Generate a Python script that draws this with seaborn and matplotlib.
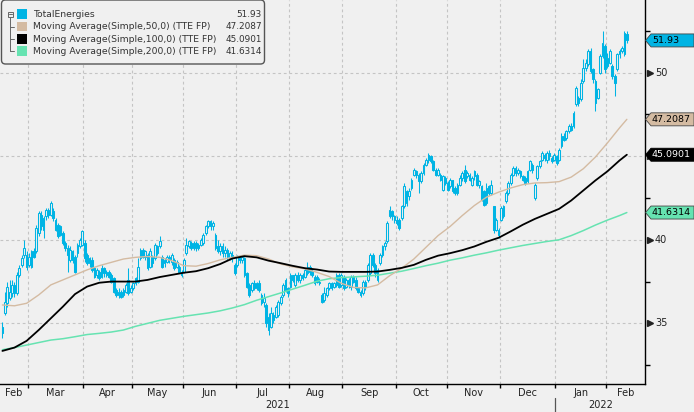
import numpy as np
import pandas as pd
import matplotlib
matplotlib.use("Agg")
import matplotlib.pyplot as plt
import seaborn as sns
from matplotlib.patches import Polygon, FancyBboxPatch, Rectangle
from matplotlib.lines import Line2D
from matplotlib.transforms import IdentityTransform, blended_transform_factory, offset_copy

sns.set_theme(style="white")
plt.rcParams["font.family"] = ["DejaVu Sans"]

# daily candles, TotalEnergies (TTE FP), 12 Feb 2021 .. 11 Feb 2022
opens = [34.8, 35.6, 36.2, 36.5, 36.8, 37.3, 36.8, 37.9, 38.5, 39.1, 39.1, 38.5, 38.4, 39.3, 39.3, 40.4, 41.5, 40.6, 41.4, 41.8,
         41.5, 41.7, 41.2, 40.9, 40.3, 40.4, 39.8, 39.5, 38.8, 39.3, 39.0, 39.2, 39.6, 39.7, 39.8, 39.1, 38.6, 38.8, 38.3, 37.9,
         38.1, 37.8, 38.3, 37.9, 38.1, 37.9, 37.7, 37.0, 36.7, 36.9, 36.7, 36.9, 37.6, 36.9, 37.1, 37.4, 37.5, 38.9, 39.4, 39.0,
         39.1, 38.4, 39.0, 38.9, 39.6, 39.6, 39.0, 38.6, 38.7, 39.0, 38.7, 38.8, 38.4, 38.4, 38.1, 38.1, 39.2, 39.6, 39.8, 39.5,
         39.8, 39.5, 39.7, 39.8, 40.4, 40.8, 41.1, 40.8, 40.3, 39.6, 39.3, 39.6, 39.2, 39.4, 38.9, 39.1, 38.5, 38.5, 39.0, 38.8,
         38.9, 38.0, 37.3, 37.0, 37.4, 37.1, 37.4, 36.7, 36.3, 36.1, 35.4, 34.8, 35.5, 35.4, 35.5, 36.2, 36.7, 37.6, 37.1, 37.2,
         37.9, 37.3, 37.9, 37.6, 37.9, 37.8, 38.0, 38.4, 38.1, 37.4, 37.8, 37.5, 36.7, 36.4, 36.7, 37.1, 37.4, 37.2, 37.3, 37.9,
         37.3, 37.8, 37.2, 37.6, 37.2, 37.8, 37.6, 37.1, 36.9, 36.8, 37.5, 37.6, 38.0, 39.1, 38.5, 37.6, 38.6, 39.1, 39.6, 39.9,
         41.4, 41.7, 41.4, 41.2, 41.2, 41.3, 42.0, 42.9, 42.6, 43.1, 43.9, 44.1, 43.9, 43.5, 44.0, 44.5, 44.8, 45.0, 44.7, 44.2,
         43.9, 43.9, 43.0, 43.7, 43.4, 43.2, 43.6, 43.1, 42.8, 43.3, 43.7, 44.2, 43.8, 43.9, 43.3, 43.8, 43.9, 43.3, 43.2, 42.9,
         42.2, 43.2, 42.8, 42.0, 40.6, 40.6, 41.2, 41.4, 42.3, 42.8, 43.4, 43.9, 44.3, 44.0, 44.1, 43.8, 43.7, 43.5, 44.2, 44.5,
         42.5, 43.7, 44.4, 44.8, 45.1, 44.8, 45.2, 44.9, 44.8, 45.0, 44.8, 45.6, 46.2, 46.1, 46.5, 46.8, 46.8, 48.1, 48.5, 48.4,
         49.5, 50.3, 50.5, 51.3, 50.2, 49.5, 48.5, 50.0, 51.0, 51.6, 50.4, 50.6, 50.4, 49.8, 50.2, 51.1, 51.3, 51.1, 52.3]
highs = [35.1, 36.9, 37.5, 37.6, 37.6, 37.5, 38.1, 38.5, 39.1, 40.0, 39.3, 39.2, 39.4, 39.5, 40.9, 41.7, 41.7, 41.4, 41.9, 41.9,
         42.3, 41.9, 41.3, 41.0, 40.9, 40.5, 39.9, 39.7, 39.6, 39.4, 39.1, 39.8, 40.1, 40.6, 40.0, 39.2, 39.0, 39.0, 38.4, 38.3,
         38.2, 38.5, 38.4, 38.2, 38.2, 38.0, 37.8, 37.1, 37.1, 37.0, 37.1, 37.4, 38.3, 37.3, 37.5, 37.8, 38.9, 39.5, 39.5, 39.4,
         39.2, 39.5, 39.1, 39.8, 39.7, 40.2, 39.1, 38.9, 39.1, 39.1, 39.2, 38.9, 38.8, 38.5, 38.2, 38.9, 40.1, 40.0, 39.9, 39.9,
         39.9, 39.8, 40.1, 40.4, 40.9, 41.2, 41.2, 41.1, 40.4, 40.0, 39.8, 39.8, 39.6, 39.5, 39.3, 39.3, 38.6, 39.1, 39.1, 39.1,
         39.0, 38.1, 37.4, 37.5, 37.6, 37.5, 37.6, 36.8, 36.8, 36.2, 35.6, 36.0, 35.7, 36.1, 36.4, 36.7, 37.4, 37.7, 37.2, 38.0,
         37.9, 38.0, 38.1, 38.0, 38.0, 38.3, 38.7, 38.5, 38.3, 37.9, 37.9, 37.7, 36.8, 37.2, 37.2, 37.5, 37.5, 37.5, 38.0, 38.0,
         38.0, 37.9, 37.7, 37.7, 37.9, 37.9, 37.8, 37.2, 37.0, 37.6, 37.6, 38.6, 39.2, 39.2, 38.6, 38.3, 39.2, 39.7, 39.9, 41.1,
         42.0, 41.8, 41.5, 41.4, 41.3, 42.1, 43.4, 43.0, 43.1, 43.7, 44.3, 44.2, 44.0, 44.1, 44.6, 44.9, 45.2, 45.1, 44.8, 44.3,
         44.3, 44.0, 43.9, 43.8, 43.5, 43.7, 43.6, 43.2, 43.4, 43.9, 44.1, 44.5, 44.1, 44.0, 43.8, 44.2, 44.0, 43.6, 43.3, 43.0,
         43.4, 43.3, 43.6, 42.0, 41.3, 40.7, 42.0, 42.1, 42.9, 43.5, 44.0, 44.4, 44.4, 44.3, 44.2, 43.9, 43.8, 44.2, 44.8, 44.6,
         43.4, 44.5, 44.8, 45.3, 45.2, 45.3, 45.4, 45.0, 45.2, 45.1, 45.5, 46.4, 46.4, 46.6, 46.9, 47.0, 47.7, 49.2, 48.6, 49.6,
         50.8, 50.8, 51.4, 51.5, 50.3, 49.6, 49.1, 51.1, 52.5, 51.7, 51.2, 51.4, 50.5, 49.9, 51.2, 51.4, 51.6, 52.5, 52.5]
lows = [34.1, 35.5, 36.0, 36.4, 36.6, 36.6, 36.7, 37.8, 38.4, 38.9, 38.2, 38.4, 38.3, 38.9, 39.2, 40.2, 40.6, 40.1, 41.2, 41.3,
        41.4, 41.1, 40.5, 40.1, 40.2, 39.7, 39.3, 38.1, 38.7, 38.6, 38.0, 39.0, 39.5, 39.6, 38.7, 38.5, 38.4, 38.1, 37.7, 37.7,
        37.6, 37.7, 37.8, 37.8, 37.7, 37.4, 36.8, 36.6, 36.5, 36.5, 36.6, 36.8, 36.7, 36.8, 37.0, 37.3, 37.4, 38.8, 38.9, 38.8,
        38.2, 38.3, 38.4, 38.8, 39.1, 39.5, 38.3, 38.4, 38.6, 38.6, 38.5, 38.2, 38.3, 38.0, 37.8, 38.0, 39.1, 39.5, 39.4, 39.4,
        39.3, 39.4, 39.6, 39.7, 40.3, 40.7, 40.6, 40.6, 39.4, 39.2, 39.1, 39.0, 39.0, 38.8, 38.8, 38.7, 37.9, 38.4, 38.6, 38.6,
        37.8, 37.1, 36.6, 36.9, 37.0, 37.0, 36.9, 36.1, 36.0, 34.8, 34.3, 34.7, 35.0, 35.3, 35.4, 36.1, 36.6, 36.9, 36.6, 37.1,
        37.5, 37.2, 37.5, 37.4, 37.6, 37.7, 37.9, 37.9, 37.8, 37.3, 37.4, 37.3, 36.2, 36.3, 36.6, 37.0, 37.0, 37.1, 37.2, 37.1,
        37.2, 37.0, 37.1, 37.1, 37.0, 37.4, 37.0, 36.8, 36.6, 36.7, 37.0, 37.5, 37.9, 38.4, 37.8, 37.5, 38.5, 39.0, 39.4, 39.8,
        41.3, 41.2, 41.0, 40.9, 40.6, 41.2, 41.9, 42.0, 42.4, 43.0, 43.8, 43.7, 42.8, 43.4, 43.9, 44.4, 44.6, 44.6, 44.1, 43.8,
        43.8, 43.5, 42.9, 43.3, 42.9, 43.1, 42.8, 42.7, 42.7, 43.2, 43.5, 43.4, 43.7, 43.5, 43.2, 43.6, 43.2, 43.1, 42.3, 42.0,
        42.1, 42.7, 42.7, 40.4, 40.5, 40.1, 41.1, 41.3, 42.2, 42.7, 43.3, 43.8, 43.8, 43.9, 43.7, 43.5, 43.3, 43.4, 44.1, 44.0,
        42.4, 43.6, 44.3, 44.7, 44.7, 44.6, 44.8, 44.6, 44.7, 44.5, 44.7, 45.5, 45.9, 46.0, 46.4, 46.5, 46.7, 48.0, 48.0, 48.3,
        49.4, 50.1, 50.4, 50.0, 49.4, 47.7, 48.4, 49.9, 50.9, 50.0, 50.3, 50.5, 49.6, 48.6, 50.1, 50.9, 51.2, 51.0, 51.8]
closes = [34.4, 36.3, 37.2, 36.9, 37.3, 36.8, 37.9, 38.3, 38.9, 39.5, 38.4, 39.0, 39.3, 39.0, 40.7, 41.6, 40.8, 41.3, 41.8, 41.5,
          42.2, 41.3, 40.6, 40.2, 40.8, 39.8, 39.5, 39.1, 39.4, 38.8, 38.1, 39.7, 40.0, 40.5, 38.9, 38.6, 38.9, 38.2, 37.8, 38.2,
          37.7, 38.3, 38.0, 38.1, 37.8, 37.5, 36.9, 36.7, 36.9, 36.6, 37.0, 37.3, 36.8, 37.1, 37.4, 37.7, 38.4, 39.4, 39.0, 39.3,
          38.3, 39.3, 38.6, 39.7, 39.2, 39.9, 38.4, 38.8, 39.0, 38.8, 39.1, 38.3, 38.7, 38.1, 37.9, 38.8, 39.7, 39.9, 39.5, 39.8,
          39.5, 39.7, 40.0, 40.3, 40.8, 41.1, 40.8, 41.0, 39.5, 39.3, 39.6, 39.2, 39.4, 39.0, 39.2, 38.9, 38.0, 39.0, 38.8, 39.0,
          37.9, 37.2, 36.7, 37.4, 37.1, 37.4, 37.0, 36.2, 36.5, 35.0, 34.6, 35.6, 35.2, 36.0, 36.3, 36.6, 37.3, 37.0, 36.8, 37.9,
          37.6, 37.9, 37.6, 37.9, 37.7, 38.2, 38.4, 38.1, 37.9, 37.8, 37.5, 37.4, 36.3, 36.8, 37.1, 37.4, 37.1, 37.4, 37.9, 37.2,
          37.9, 37.1, 37.6, 37.3, 37.8, 37.5, 37.1, 36.9, 36.7, 37.5, 37.2, 38.5, 39.1, 38.5, 38.0, 38.2, 39.1, 39.6, 39.8, 41.0,
          41.8, 41.4, 41.2, 41.0, 40.7, 42.0, 43.2, 42.2, 42.9, 43.6, 44.2, 43.9, 43.5, 44.0, 44.5, 44.8, 45.1, 44.7, 44.2, 43.9,
          44.2, 43.6, 43.8, 43.4, 43.0, 43.6, 42.9, 42.8, 43.3, 43.7, 44.0, 43.5, 44.0, 43.6, 43.7, 44.1, 43.3, 43.5, 42.4, 42.1,
          43.1, 42.8, 43.3, 40.6, 41.2, 40.3, 41.9, 42.0, 42.8, 43.4, 43.9, 44.3, 44.0, 44.2, 43.8, 43.6, 43.4, 44.1, 44.7, 44.2,
          43.3, 44.4, 44.7, 45.2, 44.9, 45.2, 45.0, 44.7, 45.1, 44.6, 45.4, 46.2, 46.0, 46.5, 46.8, 46.6, 47.6, 49.1, 48.2, 49.4,
          50.3, 50.6, 51.3, 50.1, 49.6, 48.2, 49.0, 51.0, 51.8, 50.2, 50.9, 51.3, 49.8, 49.4, 51.1, 51.3, 51.5, 52.4, 51.93]

# moving averages read every 5 trading days
ma_days = list(range(0, 256, 5)) + [258]
ma50 = [36.1, 36.05, 36.2, 36.7, 37.3, 37.6, 37.9, 38.2, 38.45, 38.65, 38.85, 38.95, 39.0, 38.95, 38.75, 38.45, 38.42, 38.58,
        38.8, 38.95, 39.08, 39.05, 38.85, 38.55, 38.38, 38.26, 38.05, 37.8, 37.4, 37.15, 37.12, 37.3, 37.85, 38.3, 38.85, 39.55,
        40.25, 40.8, 41.45, 42.05, 42.55, 42.85, 43.1, 43.3, 43.4, 43.42, 43.48, 43.75, 44.25, 44.95, 45.8, 46.7, 47.2087]
ma100 = [33.35, 33.55, 33.95, 34.6, 35.3, 36.0, 36.75, 37.2, 37.43, 37.5, 37.5, 37.5, 37.6, 37.77, 37.9, 38.03, 38.12, 38.3,
         38.55, 38.88, 39.02, 38.95, 38.75, 38.6, 38.44, 38.3, 38.22, 38.1, 38.08, 38.08, 38.08, 38.1, 38.2, 38.32, 38.5, 38.8,
         39.05, 39.2, 39.38, 39.6, 39.88, 40.12, 40.5, 40.9, 41.25, 41.55, 41.85, 42.35, 42.95, 43.55, 44.1, 44.75, 45.0901]
ma200 = [33.42, 33.55, 33.7, 33.85, 34.0, 34.08, 34.2, 34.33, 34.4, 34.48, 34.6, 34.82, 35.0, 35.18, 35.3, 35.42, 35.52, 35.62,
         35.75, 35.92, 36.12, 36.38, 36.6, 36.82, 37.05, 37.28, 37.52, 37.67, 37.74, 37.78, 37.82, 37.88, 38.0, 38.12, 38.28, 38.45,
         38.6, 38.78, 38.92, 39.08, 39.22, 39.38, 39.52, 39.66, 39.78, 39.9, 40.0, 40.25, 40.55, 40.88, 41.18, 41.45, 41.6314]

legend_names = ["TotalEnergies", "Moving Average(Simple,50,0) (TTE FP)",
                "Moving Average(Simple,100,0) (TTE FP)", "Moving Average(Simple,200,0) (TTE FP)"]
last_values = ["51.93", "47.2087", "45.0901", "41.6314"]
month_names = ["Feb", "Mar", "Apr", "May", "Jun", "Jul", "Aug", "Sep", "Oct", "Nov", "Dec", "Jan", "Feb"]
price_labels = [35, 40, 50]  # 45 sits under the black tag

BG = "#f0f0f0"
CYAN = "#00b4e4"
TAN = "#d4bba2"
GREEN = "#66e3b1"
GRID = "#c4c4c4"
colors = [CYAN, TAN, "black", GREEN]
tag_text = ["black", "black", "white", "black"]

days = pd.bdate_range("2021-02-12", "2022-02-11")
days = days.drop(pd.to_datetime(["2021-04-02", "2021-04-05"]))
idx = np.arange(len(days))

W, H = 694, 412
fig = plt.figure(figsize=(W / 100, H / 100), dpi=100, facecolor=BG)
ax = fig.add_axes([0, 28 / H, 645 / W, 384 / H])
ax.set_facecolor(BG)
ax.set_xlim(-0.99, 265.5)
ax.set_ylim(31.37, 54.35)

# month boundaries
month_start = [i for i in range(1, len(days)) if days[i].month != days[i - 1].month]
bounds = [b - 0.5 for b in month_start]
for b in bounds:
    ax.axvline(b, color=GRID, lw=0.8, ls=(0, (2.5, 2.5)), zorder=0)
for v in [35, 40, 45, 50]:
    ax.axhline(v, color=GRID, lw=0.8, ls=(0, (2.5, 2.5)), zorder=0)

# candles: hollow when up, filled when down
o, hi, lo, c = map(np.array, (opens, highs, lows, closes))
up = c >= o
ax.vlines(idx, lo, hi, color=CYAN, lw=0.75, zorder=3)
body_lo = np.minimum(o, c)
body_h = np.maximum(np.abs(c - o), 0.04)
ax.bar(idx[up], body_h[up], bottom=body_lo[up], width=0.7, facecolor=BG,
       edgecolor=CYAN, linewidth=0.75, zorder=4)
ax.bar(idx[~up], body_h[~up], bottom=body_lo[~up], width=0.7, color=CYAN,
       edgecolor=CYAN, linewidth=0.75, zorder=4)

sns.lineplot(x=ma_days, y=ma200, ax=ax, color=GREEN, lw=1.1, zorder=5)
sns.lineplot(x=ma_days, y=ma50, ax=ax, color=TAN, lw=1.0, zorder=5)
sns.lineplot(x=ma_days, y=ma100, ax=ax, color="black", lw=1.3, zorder=6)

# axes frame
for s in ["top", "left"]:
    ax.spines[s].set_visible(False)
for s in ["right", "bottom"]:
    ax.spines[s].set_color("black")
    ax.spines[s].set_linewidth(1.0)
ax.yaxis.tick_right()
ax.set_yticks([35, 40, 45, 50])
ax.set_yticklabels([])
ax.set_yticks([32.5, 37.5, 42.5, 47.5, 52.5], minor=True)
ax.tick_params(axis="y", which="major", length=0)
ax.tick_params(axis="y", which="minor", length=3.5, width=1, color="black", direction="out", right=True, left=False)
ax.set_xticks(bounds)
ax.set_xticklabels([])
ax.tick_params(axis="x", which="major", length=3, width=1, color="black", direction="out", bottom=True)
ax.set_xlabel("")
ax.set_ylabel("")

# right-axis labels with arrow heads
tr = blended_transform_factory(ax.transAxes, ax.transData)
for v in [35, 40, 45, 50]:
    ax.plot([1], [v], marker=">", ms=5, color="#222222", transform=offset_copy(tr, fig=fig, x=5, y=0, units="dots"),
            clip_on=False, zorder=7)
for v in price_labels:
    ax.text(1, v, str(v), transform=offset_copy(tr, fig=fig, x=10, y=0, units="dots"), ha="left", va="center",
            fontsize=7, color="#222222", clip_on=False)

# bottom labels
edges = [ax.get_xlim()[0]] + bounds + [ax.get_xlim()[1]]
trx = blended_transform_factory(ax.transData, ax.transAxes)
for k, name in enumerate(month_names):
    mid = (edges[k] + edges[k + 1]) / 2
    if k == 0:
        mid = max(mid, edges[0] + 3.8)
    ax.text(mid, 0, name, transform=offset_copy(trx, fig=fig, x=0, y=-8.5, units="dots"),
            ha="center", va="center", fontsize=7, color="#222222")
jan = bounds[-2]
ax.text((edges[0] + jan) / 2, 0, "2021", transform=offset_copy(trx, fig=fig, x=0, y=-21, units="dots"),
        ha="center", va="center", fontsize=7, color="#222222")
ax.text((jan + edges[-1]) / 2, 0, "2022", transform=offset_copy(trx, fig=fig, x=0, y=-21, units="dots"),
        ha="center", va="center", fontsize=7, color="#222222")
ax.plot([jan, jan], [-14 / 384, -28 / 384], transform=trx, color="#555555", lw=0.9, clip_on=False)

# last-value tags
fig.canvas.draw()
ident = IdentityTransform()
vals = [float(v) for v in last_values]
for v, txt, col, tc in zip(vals, last_values, colors, tag_text):
    yp = ax.transData.transform((0, v))[1]
    xp = ax.transAxes.transform((1, 0))[0]
    poly = Polygon([[xp + 0.5, yp], [xp + 6, yp + 6.5], [W, yp + 6.5], [W, yp - 6.5], [xp + 6, yp - 6.5]],
                   closed=True, facecolor=col, edgecolor="#444444" if col != "black" else "black", lw=0.6,
                   transform=ident, zorder=20)
    fig.add_artist(poly)
    fig.text((xp + 7) / W, yp / H, txt, ha="left", va="center", fontsize=6.8, color=tc, zorder=21)

# legend box
box = FancyBboxPatch((1.5, H - 64), 263, 64, boxstyle="round,pad=0,rounding_size=4", facecolor=BG,
                     edgecolor="#555555", lw=1.0, transform=ident, zorder=10)
fig.add_artist(box)
rows = [14.3, 26.7, 39.0, 51.3]
fig.add_artist(Rectangle((7.5, H - 17), 5.5, 5.5, facecolor="none", edgecolor="#666666", lw=0.7,
                         transform=ident, zorder=11))
fig.add_artist(Line2D([8.8, 11.8], [H - 14.2, H - 14.2], color="#666666", lw=0.7, transform=ident, zorder=11))
fig.add_artist(Line2D([10.2, 10.2], [H - 17, H - rows[3]], color="#666666", lw=0.7, transform=ident, zorder=11))
for r in rows[1:]:
    fig.add_artist(Line2D([10.2, 14], [H - r, H - r], color="#666666", lw=0.7, transform=ident, zorder=11))
for r, name, col, val in zip(rows, legend_names, colors, last_values):
    fig.add_artist(Rectangle((17, H - r - 4.5), 10, 9.5, facecolor=col, edgecolor="none", transform=ident, zorder=11))
    fig.text(33 / W, (H - r) / H, name, ha="left", va="center", fontsize=6.7, color="#333333", zorder=12)
    fig.text(262 / W, (H - r) / H, val, ha="right", va="center", fontsize=6.4, color="#333333", zorder=12)

fig.savefig("out.png", dpi=100, facecolor=BG)
